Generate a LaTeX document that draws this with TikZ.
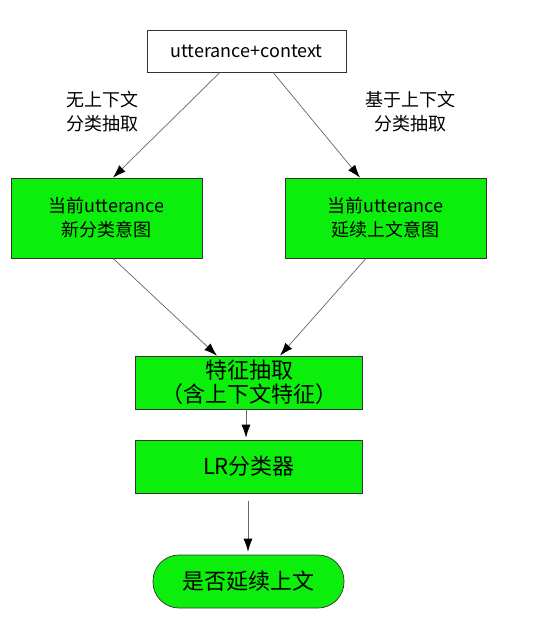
\documentclass[tikz,border=0pt]{standalone}
\usepackage{fontspec}
\newfontfamily\cjk{Noto Sans CJK SC}
\usepackage{tikz}
\usetikzlibrary{arrows.meta}
\definecolor{boxgreen}{RGB}{12,238,12}

\begin{document}
\begin{tikzpicture}[x=1pt, y=-1pt,
	every node/.style={font=\cjk\fontsize{18}{24}\selectfont, align=center, inner sep=0pt},
	>={Latex[length=13pt,width=9pt,black]},
	flow/.style={->, draw=black!60, line width=0.7pt},
	plainbox/.style={draw=black!80, line width=0.7pt, fill=white, minimum height=42pt},
	greenbox/.style={draw=black!80, line width=0.7pt, fill=boxgreen, minimum height=80pt},
	lowbox/.style={greenbox, minimum width=227pt, minimum height=53pt, font=\cjk\fontsize{22}{24}\selectfont},
	endbox/.style={lowbox, minimum width=191pt, rounded corners=26pt}]
	\useasboundingbox (0,0) rectangle (549,627);
	\node[plainbox, minimum width=199pt] (ctx) at (246.5,51) {utterance+context};
	\node[greenbox, minimum width=191pt] (newint) at (106.5,218) {当前utterance\\新分类意图};
	\node[greenbox, minimum width=201pt] (contint) at (385.5,218) {当前utterance\\延续上文意图};
	\node (lblnew) at (102,112) {无上下文\\分类抽取};
	\node (lblcont) at (410,112) {基于上下文\\分类抽取};
	\node[lowbox] (feat) at (249,382.5) {特征抽取\\（含上下文特征）};
	\node[lowbox] (lr) at (249,466.5) {LR分类器};
	\node[endbox] (out) at (248.5,581.5) {是否延续上文};
	\draw[flow] ([xshift=-26.5pt]ctx.south) -- ([xshift=6.5pt]newint.north);
	\draw[flow] ([xshift=26.5pt]ctx.south) -- ([xshift=-25.5pt]contint.north);
	\draw[flow] ([xshift=6.5pt]newint.south) -- ([xshift=-32pt]feat.north);
	\draw[flow] ([xshift=-19.5pt]contint.south) -- ([xshift=31pt]feat.north);
	\draw[flow] ([xshift=-3pt]feat.south) -- ([xshift=-3pt,yshift=2pt]lr.north);
	\draw[flow] ([yshift=-8pt,xshift=-1pt]lr.south) -- ([xshift=-0.5pt,yshift=3pt]out.north);
\end{tikzpicture}
\end{document}
